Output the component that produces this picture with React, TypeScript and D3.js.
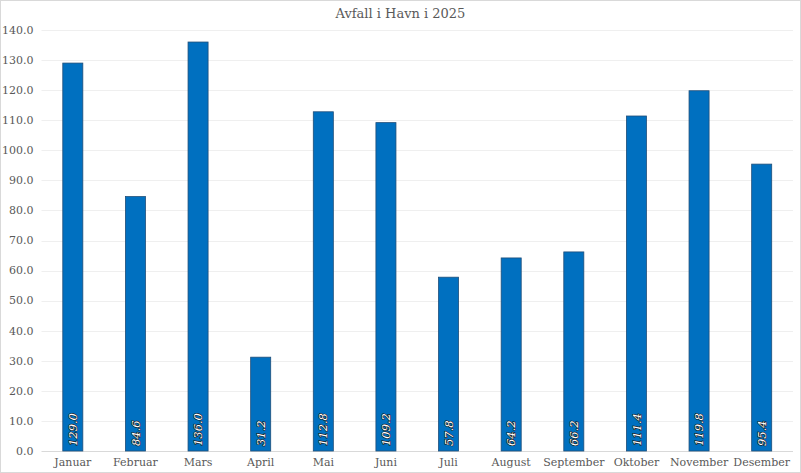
import { useEffect, useRef } from "react";
import * as d3 from "d3";

const title = "Avfall i Havn i 2025";
const months = [
  "Januar", "Februar", "Mars", "April", "Mai", "Juni",
  "Juli", "August", "September", "Oktober", "November", "Desember",
];
const values = [129.0, 84.6, 136.0, 31.2, 112.8, 109.2, 57.8, 64.2, 66.2, 111.4, 119.8, 95.4];
const yTicks = [0, 10, 20, 30, 40, 50, 60, 70, 80, 90, 100, 110, 120, 130, 140];

const FONT = "'DejaVu Serif', 'Liberation Serif', serif";

const App: React.FC = () => {
  const ref = useRef<SVGSVGElement | null>(null);

  useEffect(() => {
    if (!ref.current) return;
    const width = 801;
    const height = 473;
    const margin = { top: 30, right: 8, bottom: 22, left: 41.5 };
    const innerWidth = width - margin.left - margin.right;
    const innerHeight = height - margin.top - margin.bottom;

    const svg = d3.select(ref.current).attr("width", width).attr("height", height);
    svg.selectAll("*").remove();

    // background + frame
    svg.append("rect")
      .attr("x", 0.5).attr("y", 0.5)
      .attr("width", width - 1).attr("height", height - 1)
      .attr("fill", "#ffffff")
      .attr("stroke", "#d9d9d9");

    svg.append("text")
      .attr("x", width / 2)
      .attr("y", 18)
      .attr("text-anchor", "middle")
      .attr("font-family", FONT)
      .attr("font-size", "13px")
      .attr("fill", "#595959")
      .text(title);

    const x = d3.scaleBand().domain(months).range([0, innerWidth]).paddingInner(0.68).paddingOuter(0.34);
    const y = d3.scaleLinear().domain([0, 140]).range([innerHeight, 0]);

    const g = svg.append("g").attr("transform", `translate(${margin.left}, ${margin.top})`);

    // gridlines
    g.selectAll(".grid")
      .data(yTicks)
      .enter()
      .append("line")
      .attr("x1", 0)
      .attr("x2", innerWidth)
      .attr("y1", d => Math.round(y(d)) + 0.5)
      .attr("y2", d => Math.round(y(d)) + 0.5)
      .attr("stroke", d => (d === 0 ? "#d9d9d9" : "#efefef"))
      .attr("stroke-width", 1);

    // y labels
    g.selectAll(".ylab")
      .data(yTicks)
      .enter()
      .append("text")
      .attr("x", -8)
      .attr("y", d => y(d))
      .attr("dy", "0.35em")
      .attr("text-anchor", "end")
      .attr("font-family", FONT)
      .attr("font-size", "11px")
      .attr("fill", "#595959")
      .text(d => d.toFixed(1));

    // bars
    g.selectAll(".bar")
      .data(values)
      .enter()
      .append("rect")
      .attr("x", (_, i) => x(months[i]) || 0)
      .attr("y", d => y(d))
      .attr("width", x.bandwidth())
      .attr("height", d => innerHeight - y(d))
      .attr("fill", "#0070c0")
      .attr("stroke", "#1f4e79")
      .attr("stroke-width", 0.8);

    // bar value labels (rotated, white with dark outline)
    g.selectAll(".blab")
      .data(values)
      .enter()
      .append("text")
      .attr("transform", (_, i) => `translate(${(x(months[i]) || 0) + x.bandwidth() / 2}, ${innerHeight - 5}) rotate(-90)`)
      .attr("dy", "0.36em")
      .attr("text-anchor", "start")
      .attr("font-family", FONT)
      .attr("font-style", "italic")
      .attr("font-size", "11.5px")
      .attr("fill", "#ffffff")
      .attr("stroke", "#1a1a1a")
      .attr("stroke-width", 1.3)
      .attr("paint-order", "stroke")
      .attr("stroke-linejoin", "round")
      .text(d => d.toFixed(1));

    // x labels
    g.selectAll(".xlab")
      .data(months)
      .enter()
      .append("text")
      .attr("x", d => (x(d) || 0) + x.bandwidth() / 2)
      .attr("y", innerHeight + 15)
      .attr("text-anchor", "middle")
      .attr("font-family", FONT)
      .attr("font-size", "11px")
      .attr("fill", "#595959")
      .text(d => d);
  }, []);

  return (
    <svg ref={ref} style={{ position: "absolute", left: 0, top: 0, display: "block" }}></svg>
  );
};

export default App;
